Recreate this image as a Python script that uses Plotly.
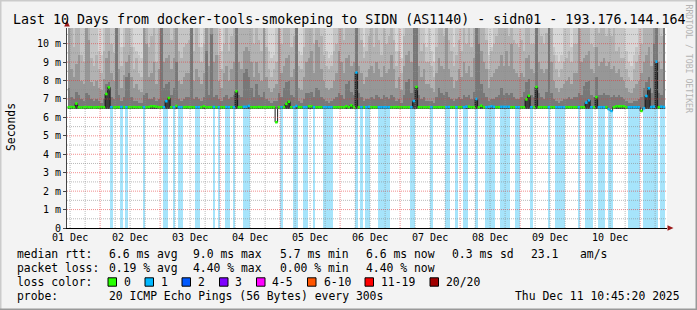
import plotly.graph_objects as go
import pandas as pd

# ---------------- data ----------------
START_TIME = "2025-12-01 10:45:20"
END_TIME = "2025-12-11 10:45:20"
FIRST_SLOT = "2025-12-01 11:00:00"   # 1-hour consolidated slots

day_labels = ["01 Dec", "02 Dec", "03 Dec", "04 Dec", "05 Dec",
              "06 Dec", "07 Dec", "08 Dec", "09 Dec", "10 Dec"]
day_label_times = ["2025-12-01 12:00", "2025-12-02 12:00", "2025-12-03 12:00",
                   "2025-12-04 12:00", "2025-12-05 12:00", "2025-12-06 12:00",
                   "2025-12-07 12:00", "2025-12-08 12:00", "2025-12-09 12:00",
                   "2025-12-10 12:00"]

y_ticks = [0, 1, 2, 3, 4, 5, 6, 7, 8, 9, 10]
y_tick_labels = ["0", "1 m", "2 m", "3 m", "4 m", "5 m", "6 m", "7 m", "8 m", "9 m", "10 m"]

# median rtt per hour (ms)
median_ms = [
    6.55, 6.56, 6.55, 6.75, 6.55, 6.54, 6.55, 6.56, 6.55, 6.55, 6.54, 6.55, 6.55, 6.56, 6.55, 7.27, 7.63, 6.55, 6.54, 6.55, 6.55, 6.56, 6.55, 6.55,
    6.55, 6.55, 6.56, 6.55, 6.55, 6.54, 6.55, 6.55, 6.56, 6.60, 6.60, 6.58, 6.55, 6.55, 6.55, 6.88, 7.05, 6.55, 6.55, 6.62, 6.55, 6.55, 6.55, 6.56,
    6.55, 6.55, 6.55, 6.55, 6.55, 6.55, 6.60, 6.55, 6.55, 6.55, 6.56, 6.55, 6.55, 6.55, 6.55, 6.56, 6.55, 6.55, 6.55, 7.42, 6.55, 6.55, 6.57, 6.57,
    6.62, 6.55, 6.55, 6.55, 6.56, 6.55, 6.55, 6.55, 6.55, 6.55, 6.55, 5.74, 6.55, 6.55, 6.55, 6.73, 6.85, 6.55, 6.55, 6.62, 6.55, 6.55, 6.55, 6.55,
    6.60, 6.60, 6.55, 6.55, 6.55, 6.55, 6.55, 6.55, 6.55, 6.55, 6.55, 6.55, 6.55, 6.55, 6.55, 6.60, 6.55, 6.65, 6.55, 8.44, 6.55, 6.55, 6.55, 6.55,
    6.57, 6.55, 6.55, 6.55, 6.55, 6.55, 6.55, 6.55, 6.55, 6.55, 6.55, 6.56, 6.55, 6.55, 6.55, 6.55, 6.55, 6.55, 6.89, 7.65, 6.55, 6.55, 6.55, 6.55,
    6.55, 6.55, 6.55, 6.55, 6.55, 6.55, 6.55, 6.55, 6.56, 6.55, 6.55, 6.55, 6.55, 6.55, 6.55, 6.58, 6.58, 6.55, 6.55, 7.00, 6.55, 6.63, 6.55, 6.55,
    6.57, 6.60, 6.57, 6.55, 6.55, 6.57, 6.57, 6.57, 6.57, 6.55, 6.55, 6.55, 6.55, 6.55, 6.55, 6.98, 7.17, 6.55, 6.55, 7.65, 6.55, 6.55, 6.55, 6.55,
    6.55, 6.55, 6.55, 6.55, 6.55, 6.55, 6.55, 6.55, 6.55, 6.55, 6.55, 6.55, 6.55, 6.55, 6.55, 6.80, 6.93, 6.55, 6.55, 7.10, 6.55, 6.55, 6.55, 6.55,
    6.45, 6.35, 6.55, 6.60, 6.60, 6.60, 6.60, 6.55, 6.55, 6.55, 6.55, 6.55, 6.55, 6.35, 6.50, 7.16, 7.58, 6.56, 6.58, 9.02, 6.55, 6.58, 6.56,
]

# lost pings (of 20) per hour
lost_pings = [
    0, 0, 0, 0, 0, 0, 0, 0, 0, 0, 0, 0, 0, 0, 0, 0, 0, 1, 0, 0, 0, 1, 0, 1,
    0, 0, 0, 0, 0, 0, 1, 0, 0, 0, 0, 0, 0, 0, 1, 1, 0, 0, 1, 0, 1, 1, 0, 0,
    0, 0, 0, 1, 1, 0, 0, 0, 0, 0, 1, 0, 1, 0, 0, 1, 1, 0, 1, 0, 0, 0, 1, 1,
    1, 0, 0, 0, 0, 0, 0, 0, 0, 0, 0, 0, 0, 1, 0, 0, 0, 0, 1, 1, 0, 0, 1, 1,
    0, 0, 1, 0, 0, 0, 1, 1, 1, 1, 0, 0, 0, 0, 0, 0, 0, 0, 0, 1, 0, 1, 0, 1,
    1, 0, 0, 0, 1, 1, 1, 1, 1, 0, 0, 0, 0, 0, 0, 0, 0, 1, 1, 0, 0, 0, 0, 0,
    0, 1, 0, 0, 0, 0, 0, 1, 1, 0, 0, 1, 0, 0, 1, 1, 0, 0, 0, 1, 0, 0, 0, 1,
    1, 1, 1, 0, 0, 1, 1, 1, 1, 0, 0, 1, 1, 0, 0, 0, 0, 1, 0, 0, 0, 0, 0, 0,
    1, 0, 0, 1, 1, 1, 1, 0, 0, 0, 0, 0, 1, 0, 0, 1, 1, 1, 0, 0, 1, 1, 1, 0,
    1, 1, 0, 0, 0, 0, 0, 0, 1, 1, 1, 1, 1, 0, 1, 1, 1, 1, 1, 1, 0, 1, 1,
]

# smoke: upper ping levels per hour (ms); inner (dark) -> outer (light)
smoke_l1 = [
    7.6, 7.1, 7.0, 7.4, 7.2, 7.0, 6.9, 7.3, 7.2, 7.0, 6.9, 7.0, 6.9, 6.8, 7.0, 7.8, 7.9, 7.1, 7.0, 11, 7.2, 6.9, 7.1, 8.2,
    8.4, 7.1, 6.9, 6.9, 6.8, 6.8, 7.2, 7.3, 7.0, 7.0, 7.1, 6.9, 7.0, 11, 7.6, 7.8, 7.9, 7.2, 7.6, 9.0, 7.0, 6.9, 7.0, 7.1,
    7.1, 11, 7.0, 7.1, 7.0, 6.9, 7.1, 9.6, 7.2, 10.5, 7.1, 7.2, 7.0, 6.9, 7.1, 7.2, 7.0, 7.1, 7.2, 11, 7.2, 7.1, 8.4, 8.6,
    8.2, 7.6, 7.1, 7.8, 7.2, 7.1, 7.4, 7.0, 6.9, 6.8, 6.9, 6.9, 7.3, 7.1, 7.6, 7.9, 8.0, 7.2, 7.1, 11, 6.9, 6.8, 7.0, 7.3,
    7.3, 7.4, 7.1, 7.6, 7.5, 7.1, 7.0, 6.9, 6.8, 6.9, 7.0, 7.1, 7.3, 7.2, 7.0, 7.8, 8.0, 7.4, 7.2, 11, 7.3, 7.1, 6.9, 7.0,
    7.0, 7.1, 7.0, 7.2, 7.1, 7.0, 7.2, 7.1, 7.0, 7.2, 7.1, 6.9, 7.0, 6.8, 7.2, 7.9, 8.1, 7.3, 11, 11, 7.2, 7.0, 7.1, 6.9,
    6.9, 6.9, 6.8, 7.1, 7.6, 7.3, 7.2, 7.4, 7.1, 7.0, 6.9, 7.0, 7.1, 7.0, 7.2, 7.1, 7.2, 7.0, 7.4, 11, 10.0, 7.8, 7.3, 7.1,
    6.9, 7.0, 7.0, 7.1, 7.2, 7.6, 7.2, 7.3, 7.2, 7.3, 7.1, 7.0, 7.0, 7.1, 7.4, 7.9, 8.1, 7.2, 7.1, 11, 7.3, 7.1, 7.0, 7.4,
    11, 7.3, 7.0, 6.9, 6.8, 6.9, 7.0, 7.0, 7.1, 7.0, 7.1, 7.1, 7.3, 7.2, 7.7, 7.9, 8.0, 7.2, 7.1, 8.2, 7.2, 7.2, 7.3, 7.2,
    7.2, 7.1, 7.2, 7.1, 7.2, 7.1, 7.0, 6.9, 6.8, 6.8, 6.9, 6.9, 7.0, 7.1, 7.6, 7.9, 8.2, 7.3, 10.0, 11, 7.3, 7.2, 11,
]
smoke_l2 = [
    11, 8.6, 8.2, 8.9, 9.4, 8.0, 7.8, 11, 10.2, 7.9, 7.7, 8.0, 7.6, 7.5, 8.1, 9.2, 9.6, 8.4, 8.0, 11, 8.6, 7.6, 8.3, 9.0,
    9.4, 8.2, 7.6, 7.8, 7.5, 7.4, 11, 10.0, 8.2, 8.4, 9.0, 7.8, 8.6, 11, 9.0, 9.2, 9.4, 8.6, 9.2, 11, 8.0, 7.8, 8.2, 8.4,
    8.4, 11, 8.0, 8.6, 8.2, 7.8, 8.4, 11, 8.8, 11, 9.0, 9.4, 8.0, 7.6, 8.4, 8.8, 8.0, 8.6, 9.0, 11, 9.0, 8.6, 9.6, 9.8,
    9.6, 9.0, 8.2, 9.0, 8.4, 8.0, 11, 8.2, 7.6, 7.4, 7.6, 7.8, 11, 8.4, 8.8, 9.2, 9.4, 8.2, 8.6, 11, 7.6, 7.5, 8.2, 9.0,
    9.2, 9.6, 8.4, 10.2, 9.8, 8.6, 8.0, 7.6, 7.5, 7.6, 8.0, 8.4, 9.6, 9.0, 8.4, 9.2, 9.4, 8.8, 9.0, 11, 8.8, 8.4, 7.8, 8.2,
    8.6, 8.8, 8.4, 9.0, 8.6, 8.2, 8.8, 8.4, 8.6, 9.4, 8.6, 7.6, 8.2, 7.5, 8.8, 9.4, 9.6, 9.0, 11, 11, 8.8, 8.2, 8.6, 7.8,
    7.8, 7.6, 7.4, 8.4, 9.2, 8.8, 8.6, 11, 8.6, 8.2, 7.6, 8.0, 8.6, 8.2, 9.0, 8.4, 8.8, 8.2, 9.2, 11, 11, 9.6, 9.0, 8.6,
    7.6, 8.2, 8.4, 8.6, 8.8, 9.4, 8.8, 9.6, 8.8, 10.0, 8.6, 8.4, 8.2, 8.4, 8.2, 9.2, 9.4, 8.6, 8.4, 11, 9.0, 8.6, 8.4, 8.6,
    11, 9.0, 8.0, 7.6, 7.4, 7.6, 7.8, 8.0, 8.2, 7.8, 8.4, 8.4, 11, 9.0, 9.2, 9.4, 9.6, 8.6, 8.4, 9.8, 8.8, 9.0, 9.2, 8.8,
    9.0, 8.6, 8.8, 8.4, 8.6, 8.2, 8.0, 7.6, 7.4, 7.3, 7.6, 7.8, 8.0, 8.4, 9.0, 9.4, 9.8, 8.8, 11, 11, 9.0, 8.6, 11,
]
smoke_l3 = [
    11, 11, 9.8, 11, 11, 9.4, 9.0, 11, 11, 9.2, 8.8, 9.4, 8.6, 8.4, 9.6, 11, 11, 10.0, 9.5, 11, 11, 8.8, 9.8, 11,
    11, 9.8, 8.6, 9.2, 8.4, 8.2, 11, 11, 9.8, 10.4, 11, 9.0, 11, 11, 11, 11, 11, 10.2, 11, 11, 9.6, 9.2, 9.8, 10.0,
    10.2, 11, 9.6, 11, 9.8, 9.0, 10.0, 11, 11, 11, 11, 11, 9.4, 8.6, 10.0, 11, 9.6, 10.4, 11, 11, 11, 11, 11, 11,
    11, 11, 10.0, 11, 10.2, 9.6, 11, 9.8, 8.6, 8.2, 8.6, 9.0, 11, 10.0, 11, 11, 11, 9.8, 10.4, 11, 8.8, 8.6, 9.8, 11,
    11, 11, 10.0, 11, 11, 10.4, 9.4, 8.8, 8.6, 8.8, 9.6, 10.0, 11, 11, 10.2, 11, 11, 11, 11, 11, 11, 10.2, 9.2, 9.6,
    10.4, 11, 9.8, 11, 10.2, 9.4, 11, 10.0, 10.4, 11, 10.2, 8.8, 9.6, 8.4, 10.4, 11, 11, 11, 11, 11, 11, 9.6, 10.0, 9.0,
    9.0, 8.8, 8.2, 9.8, 11, 11, 10.4, 11, 10.2, 9.6, 8.8, 9.4, 10.2, 9.6, 11, 10.0, 11, 9.8, 11, 11, 11, 11, 11, 10.2,
    8.6, 9.6, 10.0, 10.4, 11, 11, 11, 11, 10.4, 11, 10.2, 10.0, 9.8, 10.2, 9.6, 11, 11, 10.0, 10.0, 11, 11, 10.4, 10.0, 10.6,
    11, 11, 9.4, 8.6, 8.2, 8.6, 9.0, 9.2, 9.6, 9.0, 10.0, 10.0, 11, 11, 11, 11, 11, 10.0, 9.8, 11, 10.6, 11, 11, 10.4,
    11, 10.4, 11, 9.6, 9.8, 9.2, 9.2, 8.6, 8.2, 8.0, 8.6, 9.0, 9.4, 10.0, 11, 11, 11, 11, 11, 11, 11, 10.4, 11,
]
smoke_l4 = [
    11, 11, 11, 11, 11, 11, 11, 11, 11, 11, 11, 11, 9.6, 9.4, 11, 11, 11, 11, 11, 11, 11, 9.8, 11, 11,
    11, 11, 9.8, 9.6, 9.4, 9.2, 11, 11, 11, 11, 11, 11, 11, 11, 11, 11, 11, 11, 11, 11, 11, 11, 11, 11,
    11, 11, 11, 11, 11, 9.8, 11, 11, 11, 11, 11, 11, 11, 9.6, 11, 11, 11, 11, 11, 11, 11, 11, 11, 11,
    11, 11, 11, 11, 11, 11, 11, 11, 9.6, 9.2, 9.4, 11, 11, 11, 11, 11, 11, 11, 11, 11, 9.6, 9.4, 11, 11,
    11, 11, 11, 11, 11, 11, 11, 9.6, 9.2, 9.4, 11, 11, 11, 11, 11, 11, 11, 11, 11, 11, 11, 11, 9.8, 11,
    11, 11, 11, 11, 11, 11, 11, 11, 11, 11, 11, 9.6, 11, 9.2, 11, 11, 11, 11, 11, 11, 11, 11, 11, 9.8,
    11, 9.6, 9.0, 11, 11, 11, 11, 11, 11, 11, 9.8, 11, 11, 11, 11, 11, 11, 11, 11, 11, 11, 11, 11, 11,
    9.4, 9.8, 11, 11, 11, 11, 11, 11, 11, 11, 11, 11, 11, 11, 11, 11, 11, 11, 11, 11, 11, 11, 11, 11,
    11, 11, 9.8, 9.4, 9.0, 9.4, 11, 11, 11, 9.8, 11, 11, 11, 11, 11, 11, 11, 11, 11, 11, 11, 11, 11, 11,
    11, 11, 11, 11, 11, 11, 11, 9.6, 9.0, 8.8, 9.4, 9.8, 11, 11, 11, 11, 11, 11, 11, 11, 11, 11, 11,
]
smoke_ceiling_ms = 11.0
typical_min_ms = 6.48

loss_labels = ["0", "1", "2", "3", "4-5", "6-10", "11-19", "20/20"]
loss_colors = ["#26ff00", "#00b8ff", "#0059ff", "#7e00ff", "#ff00ff", "#ff5500", "#ff0000", "#a10000"]
loss_bar_color = "#a6e4fb"

rtt_stats = ["6.6 ms avg", "9.0 ms max", "5.7 ms min", "6.6 ms now", "0.3 ms sd", "23.1", "am/s"]
loss_stats = ["0.19 % avg", "4.40 % max", "0.00 % min", "4.40 % now"]
title_text = "Last 10 Days from docker-tools-smokeping to SIDN (AS1140) - sidn01 - 193.176.144.164"
probe_text = "20 ICMP Echo Pings (56 Bytes) every 300s"
stamp_text = "Thu Dec 11 10:45:20 2025"

# ---------------- geometry ----------------
W, H = 697, 310
PL, PT, PW, PH = 67, 28, 600, 200
Y_MAX = 10.85
MONO = "DejaVu Sans Mono"


def fx(px):
    return (px - PL) / PW


def fy(py):
    return (PT + PH - py) / PH


n = len(median_ms)
slot_start = pd.date_range(FIRST_SLOT, periods=n, freq="h")
slot_mid = slot_start + pd.Timedelta(minutes=30)
slot_end = slot_start + pd.Timedelta(hours=1)
BAR_W = 3600 * 1000

fig = go.Figure()

# loss bars (0 -> median)
lx = [slot_mid[i] for i in range(n) if lost_pings[i] > 0]
ly = [median_ms[i] for i in range(n) if lost_pings[i] > 0]
fig.add_trace(go.Bar(x=lx, y=ly, base=[0] * len(lx), width=BAR_W,
                     marker=dict(color=loss_bar_color, line=dict(width=0)), hoverinfo="skip"))

# smoke below the median where median is raised
sx, sb, sh = [], [], []
for i in range(n):
    if median_ms[i] > typical_min_ms:
        sx.append(slot_mid[i]); sb.append(typical_min_ms); sh.append(median_ms[i] - typical_min_ms)
fig.add_trace(go.Bar(x=sx, y=sh, base=sb, width=BAR_W,
                     marker=dict(color="#3c3c3c", line=dict(width=0)), hoverinfo="skip"))

# smoke bands above the median
levels = [smoke_l1, smoke_l2, smoke_l3, smoke_l4, [smoke_ceiling_ms] * n]
band_colors = ["#787878", "#979797", "#b2b2b2", "#c5c5c5", "#d6d6d6"]
lower = [max(m, typical_min_ms) for m in median_ms]
for lev, col in zip(levels, band_colors):
    upper = [max(lo, v) for lo, v in zip(lower, lev)]
    fig.add_trace(go.Bar(x=list(slot_mid), y=[u - lo for u, lo in zip(upper, lower)], base=lower,
                         width=BAR_W, marker=dict(color=col, line=dict(width=0)), hoverinfo="skip"))
    lower = upper

# thin dark step line of the median
fig.add_trace(go.Scatter(x=list(slot_start) + [slot_end[-1]], y=median_ms + [median_ms[-1]],
                         mode="lines", line=dict(color="#1a1a1a", width=1, shape="hv"), hoverinfo="skip"))


# median segments coloured by loss
def loss_class(p):
    if p <= 3:
        return p
    if p <= 5:
        return 4
    if p <= 10:
        return 5
    if p <= 19:
        return 6
    return 7


for k, col in enumerate(loss_colors):
    xs, ys = [], []
    for i in range(n):
        if loss_class(lost_pings[i]) == k:
            xs += [slot_start[i], slot_end[i], None]
            ys += [median_ms[i], median_ms[i], None]
    if xs:
        fig.add_trace(go.Scatter(x=xs, y=ys, mode="lines", line=dict(color=col, width=2.6),
                                 hoverinfo="skip"))

RED_GRID = "rgba(230,50,50,0.55)"
GRAY_GRID = "rgba(140,140,140,0.6)"
shapes = []
# grid (drawn above data, like rrdtool)
for v in [t + 0.5 for t in y_ticks]:
    if v < Y_MAX:
        shapes.append(dict(type="line", xref="paper", yref="y", x0=0, x1=1, y0=v, y1=v, layer="above",
                           line=dict(color=GRAY_GRID, width=1, dash="1px,1px")))
for v in y_ticks[1:]:
    shapes.append(dict(type="line", xref="paper", yref="y", x0=0, x1=1, y0=v, y1=v, layer="above",
                       line=dict(color=RED_GRID, width=1, dash="1px,1px")))
for t in pd.date_range(day_label_times[0], END_TIME, freq="6h"):
    red = t.hour == 0
    shapes.append(dict(type="line", xref="x", yref="paper", x0=t, x1=t, y0=0, y1=1, layer="above",
                       line=dict(color=RED_GRID if red else GRAY_GRID, width=1, dash="1px,1px")))

# axis arrows
shapes.append(dict(type="path", xref="paper", yref="paper", fillcolor="#9a1818", line=dict(width=0),
                   path=f"M {fx(67)} {fy(20.5)} L {fx(64.2)} {fy(26.5)} L {fx(69.8)} {fy(26.5)} Z"))
shapes.append(dict(type="path", xref="paper", yref="paper", fillcolor="#9a1818", line=dict(width=0),
                   path=f"M {fx(673.5)} {fy(228)} L {fx(667.5)} {fy(225.2)} L {fx(667.5)} {fy(230.8)} Z"))

# outer 3D frame
shapes.append(dict(type="line", xref="paper", yref="paper", x0=fx(0), x1=fx(W), y0=fy(0.75), y1=fy(0.75),
                   line=dict(color="#cbcbcb", width=1.5)))
shapes.append(dict(type="line", xref="paper", yref="paper", x0=fx(0.75), x1=fx(0.75), y0=fy(0), y1=fy(H),
                   line=dict(color="#cbcbcb", width=1.5)))
shapes.append(dict(type="line", xref="paper", yref="paper", x0=fx(0), x1=fx(W), y0=fy(H - 0.75), y1=fy(H - 0.75),
                   line=dict(color="#999999", width=1.5)))
shapes.append(dict(type="line", xref="paper", yref="paper", x0=fx(W - 0.75), x1=fx(W - 0.75), y0=fy(0), y1=fy(H),
                   line=dict(color="#999999", width=1.5)))

# loss colour swatches
sw_left = [108, 145, 182, 219.5, 256.5, 307.5, 365, 430]
sw_label_x = [123, 160, 197, 234, 271, 322.5, 380, 445]
for xl, col in zip(sw_left, loss_colors):
    shapes.append(dict(type="rect", xref="paper", yref="paper", x0=fx(xl), x1=fx(xl + 8.5),
                       y0=fy(286.2), y1=fy(277.8), fillcolor=col, line=dict(color="#000000", width=1)))

ann = []


def txt(px, py, s, size=11.4, anchor="left", color="#000000", angle=0):
    ann.append(dict(x=fx(px), y=fy(py), xref="paper", yref="paper", text=s, showarrow=False,
                    xanchor=anchor, yanchor="middle", textangle=angle, borderpad=0,
                    font=dict(family=MONO, size=size, color=color)))


txt(12, 19, title_text, size=13.3)
txt(11, 127, "Seconds", size=11.4, anchor="center", angle=-90)
txt(688.5, 59, "RRDTOOL / TOBI OETIKER", size=8.2, anchor="center", color="#b4b4b4", angle=90)

col_x = [107.6, 192.4, 279, 365, 451, 530, 579]
txt(16, 254, "median rtt:")
for xp, s in zip(col_x, rtt_stats):
    txt(xp, 254, s)
txt(16, 268, "packet loss:")
for xp, s in zip(col_x, loss_stats):
    txt(xp, 268, s)
txt(16, 282, "loss color:")
for xp, s in zip(sw_label_x, loss_labels):
    txt(xp, 282, s)
txt(16, 296, "probe:")
txt(107.6, 296, probe_text)
txt(680.5, 296, stamp_text, anchor="right")

fig.update_layout(
    width=W, height=H,
    margin=dict(l=PL, r=W - PL - PW, t=PT, b=H - PT - PH, pad=0),
    paper_bgcolor="#f3f3f3", plot_bgcolor="#ffffff",
    barmode="overlay", bargap=0, showlegend=False,
    shapes=shapes, annotations=ann,
    xaxis=dict(type="date", range=[START_TIME, END_TIME], tickmode="array",
               tickvals=day_label_times, ticktext=day_labels, showgrid=False, zeroline=False,
               showline=True, linecolor="#000000", linewidth=1, ticks="",
               tickfont=dict(family=MONO, size=10, color="#000000"), layer="above traces"),
    yaxis=dict(range=[0, Y_MAX], tickmode="array", tickvals=y_ticks, ticktext=y_tick_labels,
               showgrid=False, zeroline=False, showline=True, linecolor="#444444", linewidth=1,
               ticks="outside", ticklen=3, tickcolor="#444444",
               tickfont=dict(family=MONO, size=10, color="#000000"), layer="above traces"),
)

fig.write_html("out.html")
